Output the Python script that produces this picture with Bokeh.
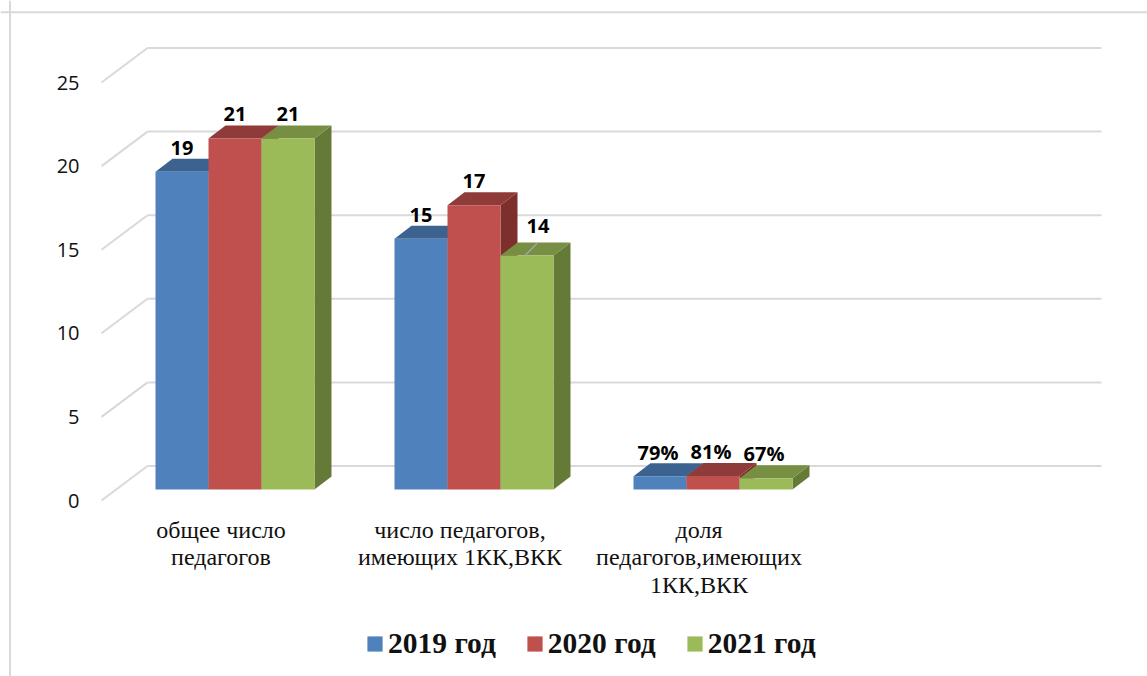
from bokeh.core.properties import value
from bokeh.embed import file_html
from bokeh.models import ColumnDataSource, FixedTicker, Legend, LegendItem, LinearAxis, Range1d, Span
from bokeh.plotting import figure
from bokeh.resources import INLINE

categories = ["общее число\nпедагогов", "число педагогов,\nимеющих 1КК,ВКК", "доля\nпедагогов,имеющих\n1КК,ВКК"]
series_names = ["2019 год", "2020 год", "2021 год"]
values_2019 = [19, 15, 0.79]
values_2020 = [21, 17, 0.81]
values_2021 = [21, 14, 0.67]
labels_2019 = ["19", "15", "79%"]
labels_2020 = ["21", "17", "81%"]
labels_2021 = ["21", "14", "67%"]
y_ticks = [0, 5, 10, 15, 20, 25]

W, H = 1147, 676
PX_X, PX_Y = 239.0, 16.72          # pixels per category / per unit
ORIGIN_X, ORIGIN_Y = 101.0, 500.0  # plot origin inside the figure

def dx(px):
    return px / PX_X

def dy(px):
    return px / PX_Y

p = figure(width=W, height=H, output_backend="svg", toolbar_location=None,
           x_range=Range1d(-dx(ORIGIN_X), dx(W - ORIGIN_X)),
           y_range=Range1d(-dy(H - ORIGIN_Y), dy(ORIGIN_Y)),
           min_border=0, min_border_left=0, min_border_right=0, min_border_top=0, min_border_bottom=0,
           x_axis_type=None, y_axis_type=None, background_fill_color="white",
           border_fill_color="white", outline_line_color=None)
p.grid.visible = False

GRID = "#D9D9D9"
# outer chart frame (left and top edges)
p.add_layout(Span(location=-dx(ORIGIN_X - 9.5), dimension="height", line_color=GRID, line_width=2))
p.add_layout(Span(location=dy(ORIGIN_Y - 11.7), dimension="width", line_color=GRID, line_width=2))

# back wall and floor lines
WALL_X, WALL_Y = dx(46), dy(34.5)
n_cat = len(categories) + 1
p.segment(x0=[0] * len(y_ticks), y0=y_ticks, x1=[WALL_X] * len(y_ticks),
          y1=[t + WALL_Y for t in y_ticks], line_color=GRID, line_width=2)
p.segment(x0=[WALL_X] * len(y_ticks), y0=[t + WALL_Y for t in y_ticks],
          x1=[n_cat + WALL_X - dx(2)] * len(y_ticks), y1=[t + WALL_Y for t in y_ticks],
          line_color=GRID, line_width=2)

# bars as three faces
BASE = dy(11)
LEFT = dx(54)
BAR_W = dx(53)
DEPTH_X, DEPTH_Y = dx(17), dy(13)
colors = [("#4F81BD", "#3C6290", "#375A85"),
          ("#C0504D", "#8F3B39", "#7D2F2E"),
          ("#9BBB59", "#768F42", "#667A38")]
all_values = [values_2019, values_2020, values_2021]
all_labels = [labels_2019, labels_2020, labels_2021]
items = []
for s, (name, vals, cols, labs) in enumerate(zip(series_names, all_values, colors, all_labels)):
    front, top, side = cols
    x0 = [i + LEFT + s * BAR_W for i in range(len(vals))]
    x1 = [x + BAR_W for x in x0]
    y1 = [BASE + v for v in vals]
    p.patches(xs=[[a, a + DEPTH_X, a + DEPTH_X, a] for a in x1],
              ys=[[BASE, BASE + DEPTH_Y, t + DEPTH_Y, t] for t in y1],
              fill_color=side, line_color=None)
    p.patches(xs=[[a, a + DEPTH_X, b + DEPTH_X, b] for a, b in zip(x0, x1)],
              ys=[[t, t + DEPTH_Y, t + DEPTH_Y, t] for t in y1],
              fill_color=top, line_color=None)
    r = p.quad(left=x0, right=x1, bottom=[BASE] * len(vals), top=y1, fill_color=front, line_color=None)
    items.append(LegendItem(label=name, renderers=[r]))

# data labels
LABEL_SHIFT = {(0, 2): -2, (1, 2): -2, (2, 2): -2, (2, 1): 11}
LABEL_LIFT = {(2, 1): 29, (2, 2): 25}
for s, (vals, labs) in enumerate(zip(all_values, all_labels)):
    src = ColumnDataSource(dict(
        x=[i + LEFT + (s + 0.5) * BAR_W for i in range(len(vals))],
        y=[BASE + v for v in vals],
        t=labs,
        xo=[LABEL_SHIFT.get((s, i), 0) for i in range(len(vals))],
        yo=[-LABEL_LIFT.get((s, i), 24) for i in range(len(vals))],
    ))
    p.text(x="x", y="y", text="t", x_offset="xo", y_offset="yo", source=src,
           text_font=value("Open Sans"), text_font_style="bold", text_font_size="20px",
           text_color="black", text_align="center", text_baseline="middle")

# leader line of the "14" label
lead_x = 1 + LEFT + 2.5 * BAR_W
lead_y = BASE + values_2021[1]
p.segment(x0=[lead_x - dx(2)], y0=[lead_y], x1=[lead_x + dx(10)], y1=[lead_y + dy(12)],
          line_color="#A6A6A6", line_width=1.5)

# axes
yax = LinearAxis(ticker=FixedTicker(ticks=y_ticks), fixed_location=0,
                 axis_line_color=None, major_tick_line_color=None, minor_tick_line_color=None,
                 major_label_standoff=16, major_label_text_font="Open Sans",
                 major_label_text_font_size="20px", major_label_text_color="#111111")
p.add_layout(yax, "left")
xax = LinearAxis(ticker=FixedTicker(ticks=[i + 0.5 for i in range(len(categories))]), fixed_location=0,
                 axis_line_color=None, major_tick_line_color=None, minor_tick_line_color=None,
                 major_label_overrides={i + 0.5: c for i, c in enumerate(categories)},
                 major_label_standoff=10, major_label_text_font="Liberation Serif",
                 major_label_text_font_size="24px", major_label_text_color="#111111",
                 major_label_text_line_height=1.07)
p.add_layout(xax, "below")

legend = Legend(items=items, orientation="horizontal", location=(365, 16), margin=0, padding=0,
                spacing=29, label_standoff=4, glyph_width=19, glyph_height=19,
                background_fill_alpha=0, border_line_color=None,
                label_text_font="Liberation Serif", label_text_font_style="bold",
                label_text_font_size="29.5px", label_text_color="#111111")
p.add_layout(legend, "center")

open("out.html", "w").write(file_html(p, INLINE))
